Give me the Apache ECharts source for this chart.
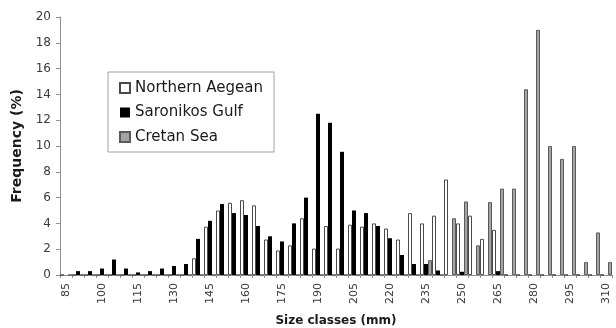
<!DOCTYPE html>
<html>
<head>
<meta charset="utf-8">
<script src="https://cdn.jsdelivr.net/npm/echarts@6/dist/echarts.min.js"></script>
<style>
  html, body { margin: 0; padding: 0; background: #ffffff; }
  #chart { width: 616px; height: 328px; }
</style>
</head>
<body>
<div id="chart"></div>
<script>
// Size classes (mm), one category every 5 mm
const sizeClasses = [85, 90, 95, 100, 105, 110, 115, 120, 125, 130, 135, 140, 145, 150, 155, 160,
  165, 170, 175, 180, 185, 190, 195, 200, 205, 210, 215, 220, 225, 230, 235, 240,
  245, 250, 255, 260, 265, 270, 275, 280, 285, 290, 295, 300, 305, 310];

// Length-frequency (%) per area
const northernAegean = [0, 0, 0, 0, 0, 0, 0, 0, 0, 0, 0, 1.3, 3.75, 5.0, 5.6, 5.8,
  5.4, 2.75, 1.9, 2.3, 4.4, 2.05, 3.8, 2.05, 3.9, 3.75, 4.0, 3.6, 2.75, 4.8, 4.0, 4.6,
  7.4, 4.0, 4.6, 2.8, 3.5, 0, 0, 0, 0, 0, 0, 0, 0, 0];

const saronikosGulf = [0, 0.3, 0.3, 0.5, 1.2, 0.5, 0.2, 0.3, 0.5, 0.7, 0.85, 2.8, 4.2, 5.5, 4.8, 4.65,
  3.8, 3.0, 2.6, 4.0, 6.0, 12.5, 11.8, 9.55, 5.0, 4.8, 3.8, 2.85, 1.55, 0.85, 0.85, 0.35,
  0, 0.25, 0, 0, 0.3, 0, 0, 0, 0, 0, 0, 0, 0, 0];

const cretanSea = [0, 0, 0, 0, 0, 0, 0, 0, 0, 0, 0, 0, 0, 0, 0, 0,
  0, 0, 0, 0, 0, 0, 0, 0, 0, 0, 0, 0, 0, 0, 1.15, 0,
  4.4, 5.7, 2.3, 5.65, 6.7, 6.7, 14.4, 19.0, 10.0, 9.0, 10.0, 1.0, 3.3, 1.0];

const FONT = '"DejaVu Sans", Verdana, sans-serif';
const AXIS_GREY = '#8f8f8f';

const chart = echarts.init(document.getElementById('chart'), null, { renderer: 'canvas' });

chart.setOption({
  animation: false,
  backgroundColor: '#ffffff',
  grid: { left: 60, right: 4, top: 17, bottom: 53, containLabel: false, outerBoundsMode: 'none' },
  legend: {
    orient: 'vertical',
    left: 108,
    top: 72,
    padding: [8, 11, 7, 11],
    itemWidth: 10,
    itemHeight: 10,
    itemGap: 8.5,
    icon: 'rect',
    borderColor: '#a0a0a0',
    borderWidth: 1,
    backgroundColor: '#ffffff',
    textStyle: { fontFamily: FONT, fontSize: 15, color: '#1a1a1a', lineHeight: 16 },
    data: ['Northern Aegean', 'Saronikos Gulf', 'Cretan Sea']
  },
  xAxis: {
    type: 'category',
    data: sizeClasses,
    name: 'Size classes (mm)',
    nameLocation: 'middle',
    nameGap: 40,
    nameTextStyle: { fontFamily: FONT, fontSize: 12, fontWeight: 'bold', color: '#1a1a1a' },
    axisLine: { lineStyle: { color: AXIS_GREY, width: 1 } },
    axisTick: { show: true, interval: 0, alignWithLabel: false, length: 3, lineStyle: { color: AXIS_GREY } },
    axisLabel: { interval: 2, rotate: 90, margin: 8, fontFamily: FONT, fontSize: 11, color: '#3a3a3a' }
  },
  yAxis: {
    type: 'value',
    min: 0,
    max: 20,
    interval: 2,
    name: 'Frequency (%)',
    nameLocation: 'middle',
    nameGap: 34,
    nameRotate: 90,
    nameTextStyle: { fontFamily: FONT, fontSize: 14, fontWeight: 'bold', color: '#1a1a1a' },
    axisLine: { show: true, lineStyle: { color: AXIS_GREY, width: 1 } },
    axisTick: { show: true, length: 4, lineStyle: { color: AXIS_GREY } },
    splitLine: { show: false },
    axisLabel: { margin: 9, fontFamily: FONT, fontSize: 12, color: '#3a3a3a' }
  },
  series: [
    {
      name: 'Northern Aegean',
      type: 'bar',
      data: northernAegean,
      barGap: '0%',
      barCategoryGap: '0%',
      itemStyle: { color: '#ffffff', borderColor: '#4a4a4a', borderWidth: 1 }
    },
    {
      name: 'Saronikos Gulf',
      type: 'bar',
      data: saronikosGulf,
      itemStyle: { color: '#000000', borderColor: '#000000', borderWidth: 0 }
    },
    {
      name: 'Cretan Sea',
      type: 'bar',
      data: cretanSea,
      itemStyle: { color: '#a4a4a4', borderColor: '#5a5a5a', borderWidth: 1 }
    }
  ]
});
</script>
</body>
</html>
